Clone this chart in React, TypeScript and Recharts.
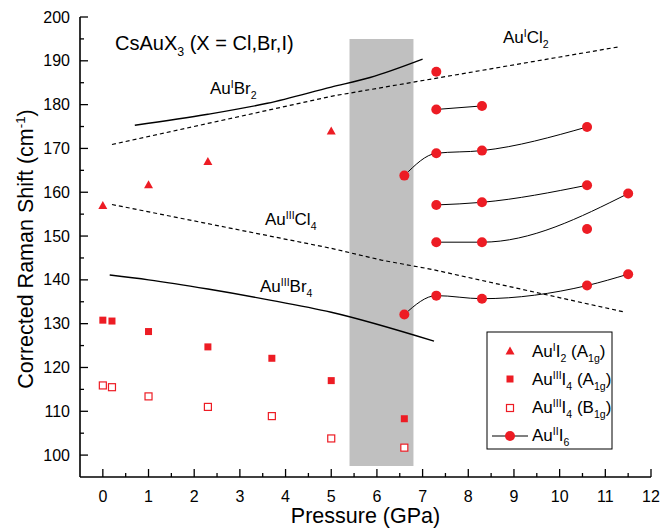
import React from "react";
import {
  ComposedChart,
  Line,
  Scatter,
  XAxis,
  YAxis,
  ReferenceArea,
} from "recharts";

// pressure (GPa) and corrected Raman shift (cm-1)
const triP = [0, 1, 2.3, 5];
const triShift = [157, 161.7, 167, 174];

const sqP = [0, 0.2, 1, 2.3, 3.7, 5, 6.6];
const sqA1g = [130.8, 130.6, 128.2, 124.7, 122.1, 117, 108.3];
const sqB1g = [115.9, 115.5, 113.4, 111, 108.9, 103.8, 101.7];

// Au(II)I6 branches
const i6aP = [7.3, 8.3];
const i6aShift = [178.9, 179.7];
const i6bP = [6.6, 7.3, 8.3, 10.6];
const i6bShift = [163.8, 168.9, 169.5, 174.9];
const i6cP = [7.3, 8.3, 10.6];
const i6cShift = [157.1, 157.7, 161.6];
const i6dP = [7.3, 8.3, 11.5];
const i6dShift = [148.6, 148.6, 159.7];
const i6eP = [6.6, 7.3, 8.3, 10.6, 11.5];
const i6eShift = [132.1, 136.4, 135.7, 138.7, 141.3];
const i6loneP = [7.3, 10.6];
const i6loneShift = [187.5, 151.6];

// reference compounds
const br2P = [0.7, 2.3, 3.6, 5, 5.85, 7];
const br2Shift = [175.3, 177.8, 180.3, 184, 186.2, 190.4];
const cl2P = [0.2, 2.3, 5, 11.3];
const cl2Shift = [170.9, 175.7, 181.9, 193.2];
const cl4P = [0.2, 5, 6.1, 7.2, 11.4];
const cl4Shift = [157.2, 147.2, 144.5, 142.4, 132.7];
const br4P = [0.15, 1, 2.3, 3.6, 5, 7.25];
const br4Shift = [141.1, 140, 137.9, 135.5, 132.6, 126];

const bandP = [5.4, 6.8];
const bandShift = [97.5, 195];

const xTicks = Array.from({ length: 25 }, (_, i) => i * 0.5);
const yTicks = Array.from({ length: 21 }, (_, i) => 100 + i * 5);

const RED = "#ed1c24";
const FONT = "'Liberation Sans', Arial, sans-serif";

const zip = (xs: number[], ys: number[]) => xs.map((p, i) => ({ p, s: ys[i] }));

type Part = [string, "n" | "sup" | "sub"];

function Rich({ x, y, size, parts, rotate }: { x: number; y: number; size: number; parts: Part[]; rotate?: boolean }) {
  let shift = 0;
  const spans = parts.map(([t, k], i) => {
    const target = k === "sup" ? -size * 0.38 : k === "sub" ? size * 0.3 : 0;
    const dy = target - shift;
    shift = target;
    return (
      <tspan key={i} dy={dy} fontSize={k === "n" ? size : size * 0.62}>
        {t}
      </tspan>
    );
  });
  return (
    <text
      x={x}
      y={y}
      fontSize={size}
      fontFamily={FONT}
      fill="#000"
      style={{ whiteSpace: "pre" }}
      textAnchor={rotate ? "middle" : "start"}
      transform={rotate ? `rotate(-90 ${x} ${y})` : undefined}
    >
      {spans}
    </text>
  );
}

const BottomTick = (props: any) => {
  const { x, y, payload } = props;
  const v = payload.value;
  const major = Number.isInteger(v);
  return (
    <g>
      <line x1={x} x2={x} y1={y} y2={y - (major ? 8 : 4)} stroke="#000" strokeWidth={1.3} />
      {major && (
        <text x={x} y={y + 25} textAnchor="middle" fontSize={16} fontFamily={FONT} fill="#000">
          {v}
        </text>
      )}
    </g>
  );
};

const TopTick = (props: any) => {
  const { x, y } = props;
  return <line x1={x} x2={x} y1={y} y2={y + 4} stroke="#000" strokeWidth={1} />;
};

const LeftTick = (props: any) => {
  const { x, y, payload } = props;
  const v = payload.value;
  const major = v % 10 === 0;
  return (
    <g>
      <line x1={x} x2={x + (major ? 8 : 4)} y1={y} y2={y} stroke="#000" strokeWidth={1.3} />
      {major && (
        <text x={x - 10} y={y + 5.5} textAnchor="end" fontSize={16} fontFamily={FONT} fill="#000">
          {v}
        </text>
      )}
    </g>
  );
};

const RightTick = (props: any) => {
  const { x, y } = props;
  return <line x1={x} x2={x - 4} y1={y} y2={y} stroke="#000" strokeWidth={1} />;
};

const triangle = (props: any) => {
  const { cx, cy } = props;
  return <path d={`M${cx},${cy - 4.5}L${cx + 4.5},${cy + 3.5}L${cx - 4.5},${cy + 3.5}Z`} fill={RED} />;
};
const filledSquare = (props: any) => {
  const { cx, cy } = props;
  return <rect x={cx - 3.5} y={cy - 3.5} width={7} height={7} fill={RED} />;
};
const openSquare = (props: any) => {
  const { cx, cy } = props;
  return <rect x={cx - 3.5} y={cy - 3.5} width={7} height={7} fill="#fff" stroke={RED} strokeWidth={1.2} />;
};
const circle = (props: any) => {
  const { cx, cy } = props;
  return <circle cx={cx} cy={cy} r={5} fill={RED} />;
};

const dotStyle = { r: 5, fill: RED, stroke: RED, strokeWidth: 0 };

export default function App() {
  const branches = [
    zip(i6aP, i6aShift),
    zip(i6bP, i6bShift),
    zip(i6cP, i6cShift),
    zip(i6dP, i6dShift),
    zip(i6eP, i6eShift),
  ];

  return (
    <div style={{ position: "absolute", left: 0, top: 0, width: 660, height: 532, background: "#fff" }}>
      <ComposedChart width={660} height={532} margin={{ top: 17, right: 9, left: 20, bottom: 0 }}>
        <XAxis
          dataKey="p"
          type="number"
          domain={[-0.5, 12]}
          ticks={xTicks}
          interval={0}
          allowDataOverflow
          height={55}
          tickSize={0}
          tickMargin={0}
          tickLine={false}
          tick={<BottomTick />}
          axisLine={{ stroke: "#000", strokeWidth: 1.6 }}
        />
        <XAxis
          xAxisId="top"
          orientation="top"
          dataKey="p"
          type="number"
          domain={[-0.5, 12]}
          ticks={xTicks}
          interval={0}
          allowDataOverflow
          height={0}
          tickSize={0}
          tickMargin={0}
          tickLine={false}
          tick={<TopTick />}
          axisLine={{ stroke: "#000", strokeWidth: 1.6 }}
        />
        <YAxis
          type="number"
          domain={[95, 200]}
          ticks={yTicks}
          interval={0}
          allowDataOverflow
          width={60}
          tickSize={0}
          tickMargin={0}
          tickLine={false}
          tick={<LeftTick />}
          axisLine={{ stroke: "#000", strokeWidth: 1.6 }}
        />
        <YAxis
          yAxisId="right"
          orientation="right"
          type="number"
          domain={[95, 200]}
          ticks={yTicks}
          interval={0}
          allowDataOverflow
          width={0}
          tickSize={0}
          tickMargin={0}
          tickLine={false}
          tick={<RightTick />}
          axisLine={{ stroke: "#000", strokeWidth: 1.6 }}
        />

        <ReferenceArea
          x1={bandP[0]}
          x2={bandP[1]}
          y1={bandShift[0]}
          y2={bandShift[1]}
          fill="#c0c0c0"
          fillOpacity={1}
          stroke="none"
        />

        <Line data={zip(br2P, br2Shift)} dataKey="s" type="monotone" stroke="#000" strokeWidth={1.4} dot={false} isAnimationActive={false} />
        <Line data={zip(cl2P, cl2Shift)} dataKey="s" type="linear" stroke="#000" strokeWidth={1.2} strokeDasharray="4 3" dot={false} isAnimationActive={false} />
        <Line data={zip(cl4P, cl4Shift)} dataKey="s" type="linear" stroke="#000" strokeWidth={1.2} strokeDasharray="4 3" dot={false} isAnimationActive={false} />
        <Line data={zip(br4P, br4Shift)} dataKey="s" type="monotone" stroke="#000" strokeWidth={1.4} dot={false} isAnimationActive={false} />

        {branches.map((d, i) => (
          <Line key={i} data={d} dataKey="s" type="monotone" stroke="#000" strokeWidth={1} dot={dotStyle} isAnimationActive={false} />
        ))}

        <Scatter data={zip(i6loneP, i6loneShift)} dataKey="s" shape={circle} isAnimationActive={false} />
        <Scatter data={zip(triP, triShift)} dataKey="s" shape={triangle} isAnimationActive={false} />
        <Scatter data={zip(sqP, sqA1g)} dataKey="s" shape={filledSquare} isAnimationActive={false} />
        <Scatter data={zip(sqP, sqB1g)} dataKey="s" shape={openSquare} isAnimationActive={false} />
      </ComposedChart>

      <svg width={660} height={532} style={{ position: "absolute", left: 0, top: 0, pointerEvents: "none" }}>
        <Rich x={115} y={50} size={20} parts={[["CsAuX", "n"], ["3", "sub"], [" (X = Cl,Br,I)", "n"]]} />
        <Rich x={210} y={94} size={17} parts={[["Au", "n"], ["I", "sup"], ["Br", "n"], ["2", "sub"]]} />
        <Rich x={503} y={43} size={17} parts={[["Au", "n"], ["I", "sup"], ["Cl", "n"], ["2", "sub"]]} />
        <Rich x={265} y={225} size={17} parts={[["Au", "n"], ["III", "sup"], ["Cl", "n"], ["4", "sub"]]} />
        <Rich x={260} y={292} size={17} parts={[["Au", "n"], ["III", "sup"], ["Br", "n"], ["4", "sub"]]} />

        <Rich x={33} y={249} size={21.5} rotate parts={[["Corrected Raman Shift (cm", "n"], ["-1", "sup"], [")", "n"]]} />
        <text x={365.5} y={523} textAnchor="middle" fontSize={21.5} fontFamily={FONT} fill="#000">
          Pressure (GPa)
        </text>

        <rect x={487} y={332} width={125} height={117} fill="#fff" stroke="#000" strokeWidth={1} />
        <path d="M510,346.5L514.5,354.5L505.5,354.5Z" fill={RED} />
        <rect x={506.5} y={375.5} width={7} height={7} fill={RED} />
        <rect x={506.5} y={404.5} width={7} height={7} fill="#fff" stroke={RED} strokeWidth={1.2} />
        <line x1={492} x2={528} y1={436} y2={436} stroke="#000" strokeWidth={1} />
        <circle cx={510} cy={436} r={5} fill={RED} />
        <Rich x={532} y={357} size={17} parts={[["Au", "n"], ["I", "sup"], ["I", "n"], ["2", "sub"], [" (A", "n"], ["1g", "sub"], [")", "n"]]} />
        <Rich x={532} y={385} size={17} parts={[["Au", "n"], ["III", "sup"], ["I", "n"], ["4", "sub"], [" (A", "n"], ["1g", "sub"], [")", "n"]]} />
        <Rich x={532} y={413} size={17} parts={[["Au", "n"], ["III", "sup"], ["I", "n"], ["4", "sub"], [" (B", "n"], ["1g", "sub"], [")", "n"]]} />
        <Rich x={532} y={441} size={17} parts={[["Au", "n"], ["II", "sup"], ["I", "n"], ["6", "sub"]]} />
      </svg>
    </div>
  );
}
